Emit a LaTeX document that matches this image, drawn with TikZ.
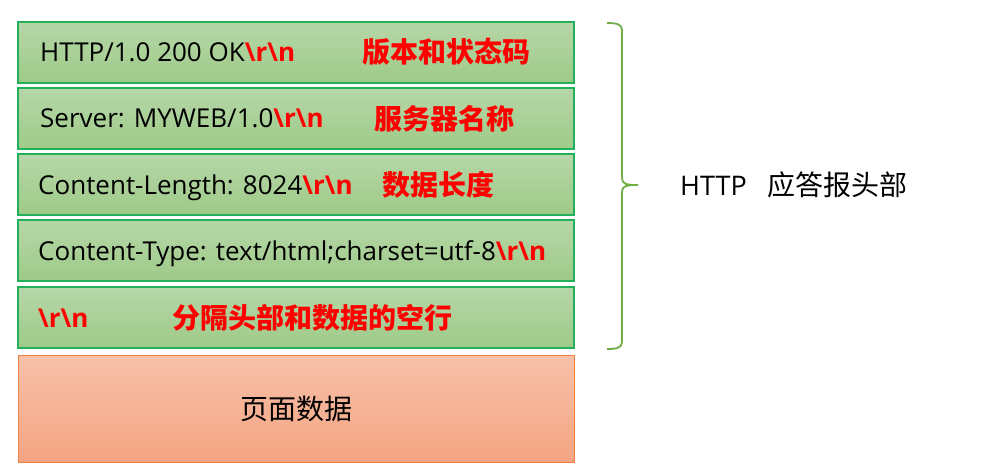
\documentclass[tikz,border=0pt]{standalone}
\usepackage{fontspec}
\setmainfont{Open Sans}
\newfontfamily\cjk{Noto Sans CJK SC}
\usetikzlibrary{positioning}
\definecolor{gtop}{HTML}{B6D7A8}
\definecolor{gbot}{HTML}{9ECA88}
\definecolor{gline}{HTML}{22B05A}
\definecolor{otop}{HTML}{F8C1A9}
\definecolor{obot}{HTML}{F4A482}
\definecolor{oline}{HTML}{EE8040}
\definecolor{brc}{HTML}{70AD47}
\definecolor{rr}{HTML}{FF0000}
\tikzset{
  greenbox/.style={draw=gline, line width=1.2pt, top color=gtop, bottom color=gbot, minimum width=556pt, minimum height=61pt, inner sep=0pt},
  orangebox/.style={draw=oline, line width=1pt, top color=otop, bottom color=obot, minimum width=556pt, minimum height=107pt, inner sep=0pt},
  lbl/.style={anchor=base west, inner sep=0pt, font=\fontsize{26}{30}\selectfont},
  cn/.style={anchor=base west, inner sep=0pt, text=rr, font=\cjk\bfseries\fontsize{28}{32}\selectfont},
}
\newcommand{\rn}{\textcolor{rr}{\bfseries\textbackslash r\textbackslash n}}
\begin{document}
\begin{tikzpicture}[x=1pt,y=-1pt]
\useasboundingbox (0,0) rectangle (982,468);
\node[greenbox] (b1) at (296,52.5) {};
\node[greenbox] (b2) at (296,118.5) {};
\node[greenbox] (b3) at (296,184.5) {};
\node[greenbox] (b4) at (296,250.5) {};
\node[greenbox] (b5) at (296,317.5) {};
\node[orangebox] (b6) at (296,408.5) {};
\node[lbl] (t1) at (40,62) {HTTP/1.0 200 OK\rn};
\node[cn] (c1) at (362,63) {版本和状态码};
\node[lbl] (t2) at (40,128) {Server: MYWEB/1.0\rn};
\node[cn] (c2) at (374,129) {服务器名称};
\node[lbl] (t3) at (38,194) {Content-Length: 8024\rn};
\node[cn] (c3) at (382,195) {数据长度};
\node[lbl] (t4) at (38,260) {Content-Type: text/html;charset=utf-8\rn};
\node[lbl] (t5) at (38,327) {\rn};
\node[cn] (c5) at (172,328) {分隔头部和数据的空行};
\node[anchor=center, inner sep=0pt, font=\cjk\fontsize{28}{32}\selectfont] (t6) at (b6.center) {页面数据};
\coordinate (bt) at (607,23);
\coordinate (bb) at (607,349);
\coordinate (tip) at (638,185);
\draw[brc, line width=1.8pt, line join=round]
  (bt) .. controls (616,23) and (622,24) .. (622,30)
  -- (622,178) .. controls (622,184) and (626,185) .. (tip)
  (tip) .. controls (626,185) and (622,186) .. (622,192)
  -- (622,342) .. controls (622,348) and (616,349) .. (bb);
\node[anchor=west, inner sep=0pt, font=\fontsize{27}{30}\selectfont] (hl) at (680,185) {HTTP\hspace{0.75em}{\cjk\fontsize{28}{30}\selectfont 应答报头部}};
\end{tikzpicture}
\end{document}
